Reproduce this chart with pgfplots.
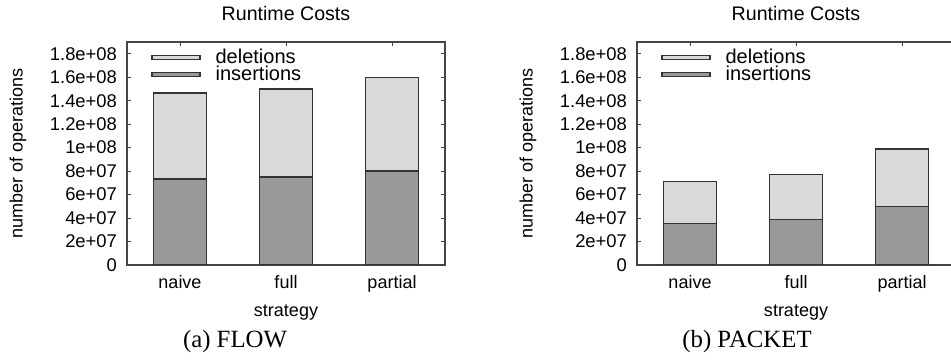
\documentclass[border=0pt]{standalone}
\usepackage{pgfplots}
\pgfplotsset{compat=1.18}
\usepackage{fontspec}
\setmainfont{Liberation Sans}
\newfontfamily\capfont{Liberation Serif}
\definecolor{delc}{HTML}{D9D9D9}
\definecolor{insc}{HTML}{999999}
\definecolor{edgec}{HTML}{333333}
\definecolor{axc}{HTML}{444444}

\pgfplotstableread{
x ins del
0 73.3e6 73.2e6
1 75.0e6 75.0e6
2 80.0e6 80.0e6
}\flow
\pgfplotstableread{
x ins del
0 35.5e6 35.8e6
1 38.6e6 38.6e6
2 49.7e6 49.1e6
}\packet

\pgfplotsset{
  rcstyle/.style={
    scale only axis, width=159pt, height=111.5pt,
    ybar stacked, bar width=26.5pt,
    xmin=-0.5, xmax=2.5, ymin=0, ymax=1.9e8,
    xtick={0,1,2}, xticklabels={naive,full,partial},
    ytick={0,2e7,4e7,6e7,8e7,1e8,1.2e8,1.4e8,1.6e8,1.8e8},
    yticklabels={0,2e+07,4e+07,6e+07,8e+07,1e+08,1.2e+08,1.4e+08,1.6e+08,1.8e+08},
    scaled y ticks=false,
    tick align=inside, major tick length=2pt,
    tick style={axc, line width=0.5pt},
    axis line style={axc, line width=0.6pt},
    /pgf/number format/assume math mode=true,
    yticklabel style={font=\fontsize{9.2}{10}\selectfont, xshift=-1.5pt},
    xticklabel style={font=\fontsize{9}{10}\selectfont, anchor=base, yshift=-12pt},
    title={Runtime Costs},
    title style={font=\fontsize{9.8}{11}\selectfont, at={(axis description cs:0.5,1)}, anchor=center, yshift=8pt},
    xlabel={strategy},
    xlabel style={font=\fontsize{9}{10}\selectfont, at={(axis description cs:0.5,0)}, anchor=base, yshift=-26pt},
    ylabel={number of operations},
    ylabel style={font=\fontsize{9}{10}\selectfont, at={(axis description cs:0,0.5)}, anchor=center, yshift=54.5pt},
    reverse legend,
    legend style={at={(axis description cs:0,1)}, anchor=north west, xshift=9pt, yshift=-1.3pt,
      draw=none, fill=none, font=\fontsize{10}{11}\selectfont, row sep=0pt,
      nodes={inner ysep=0pt, text height=7.4pt, text depth=1.1pt},
      /tikz/every odd column/.append style={column sep=5.5pt}},
    legend image code/.code={\draw[#1, line width=0.6pt] (0pt,-1.1pt) rectangle (24pt,1.1pt);},
    legend cell align=left,
  },
  insbar/.style={fill=insc, draw=edgec, line width=0.65pt},
  delbar/.style={fill=delc, draw=edgec, line width=0.65pt},
}

\begin{document}
\begin{tikzpicture}
\useasboundingbox (0,0) rectangle (475.5pt,181pt);
\begin{axis}[rcstyle, at={(63.5pt,48.5pt)}, anchor=south west]
\addplot[insbar] table[x=x,y=ins]{\flow};
\addplot[delbar] table[x=x,y=del]{\flow};
\legend{insertions,deletions}
\end{axis}
\begin{axis}[rcstyle, at={(318.5pt,48.5pt)}, anchor=south west]
\addplot[insbar] table[x=x,y=ins]{\packet};
\addplot[delbar] table[x=x,y=del]{\packet};
\legend{insertions,deletions}
\end{axis}
\node[font=\capfont\fontsize{12.4}{14}\selectfont, anchor=base] at (117.5pt,7pt) {(a) FLOW};
\node[font=\capfont\fontsize{12.4}{14}\selectfont, anchor=base] at (373.5pt,7pt) {(b) PACKET};
\end{tikzpicture}
\end{document}
